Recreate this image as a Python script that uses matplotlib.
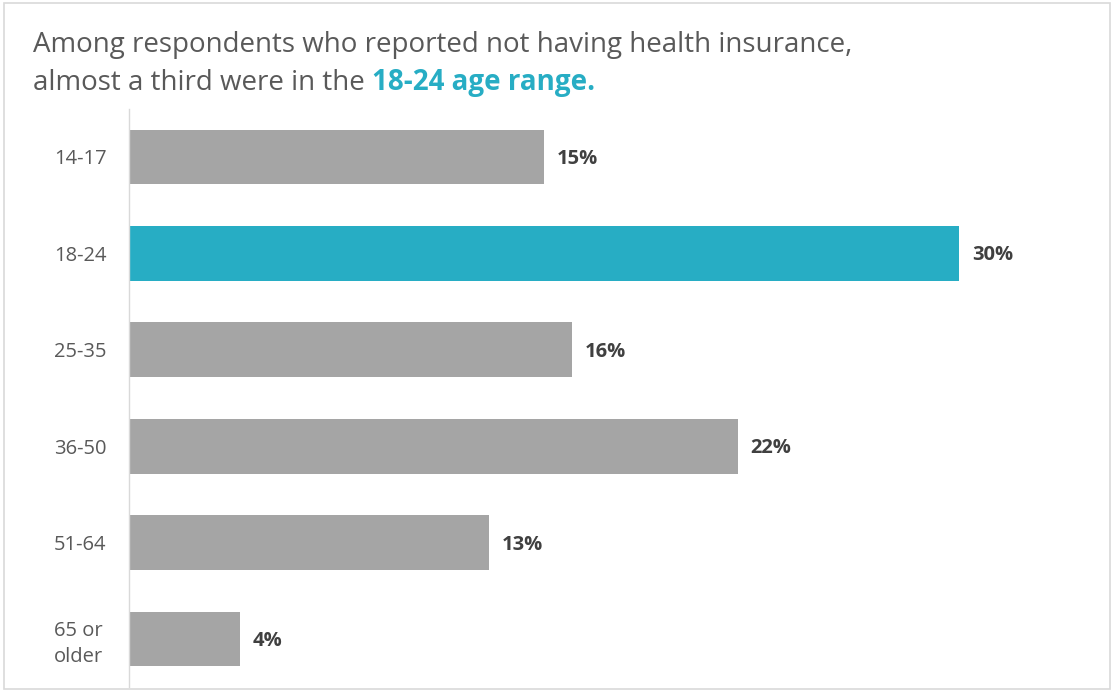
import matplotlib.pyplot as plt
from matplotlib.patches import Rectangle

# Share of uninsured respondents by age group
age_groups = ["14-17", "18-24", "25-35", "36-50", "51-64", "65 or\nolder"]
shares = [15, 30, 16, 22, 13, 4]
highlight = "18-24"

GRAY = "#A5A5A5"
TEAL = "#27ADC4"
TEXT = "#595959"
VALUE = "#404040"

plt.rcParams["font.family"] = ["Open Sans", "DejaVu Sans"]

W, H = 1114, 692
fig = plt.figure(figsize=(W / 100, H / 100), dpi=100)

# Light frame around the whole figure
fig.patches.append(Rectangle((4 / W, 3 / H), (W - 8) / W, (H - 6) / H,
                             transform=fig.transFigure, fill=False,
                             edgecolor="#D9D9D9", linewidth=1.2))

left, right = 129 / W, 1080 / W
bottom, top = (H - 687.2) / H, (H - 108.8) / H
ax = fig.add_axes([left, bottom, right - left, top - bottom])

colors = [TEAL if g == highlight else GRAY for g in age_groups]
ypos = list(range(len(age_groups)))
ax.barh(ypos, shares, height=0.57, color=colors)

for y, v in zip(ypos, shares):
    ax.text(v + 0.47, y + 0.02, f"{v}%", va="center", ha="left",
            fontsize=14.5, fontweight="bold", color=VALUE)

ax.set_xlim(0, (1080 - 129) / 27.67)
ax.set_ylim(len(age_groups) - 0.5, -0.5)
ax.set_yticks(ypos)
ax.set_yticklabels(age_groups, fontsize=14.5, color=TEXT, ha="left",
                   linespacing=1.4)
ax.tick_params(axis="y", length=0, pad=(129 - 54) * 0.72)
ax.set_xticks([])
for s in ["top", "right", "bottom"]:
    ax.spines[s].set_visible(False)
ax.spines["left"].set_color("#D9D9D9")
ax.spines["left"].set_linewidth(1)

# Two-line title with the highlighted phrase in bold teal
fig.text(33 / W, 1 - 52 / H,
         "Among respondents who reported not having health insurance,",
         fontsize=20, color=TEXT, va="baseline", ha="left")
t2 = fig.text(33 / W, 1 - 90 / H, "almost a third were in the ",
              fontsize=20, color=TEXT, va="baseline", ha="left")
fig.canvas.draw()
bb = t2.get_window_extent()
fig.text(bb.x1 / W, 1 - 90 / H, "18-24 age range.",
         fontsize=20, color=TEAL, fontweight="bold",
         va="baseline", ha="left")

fig.savefig("out.png", dpi=100)
